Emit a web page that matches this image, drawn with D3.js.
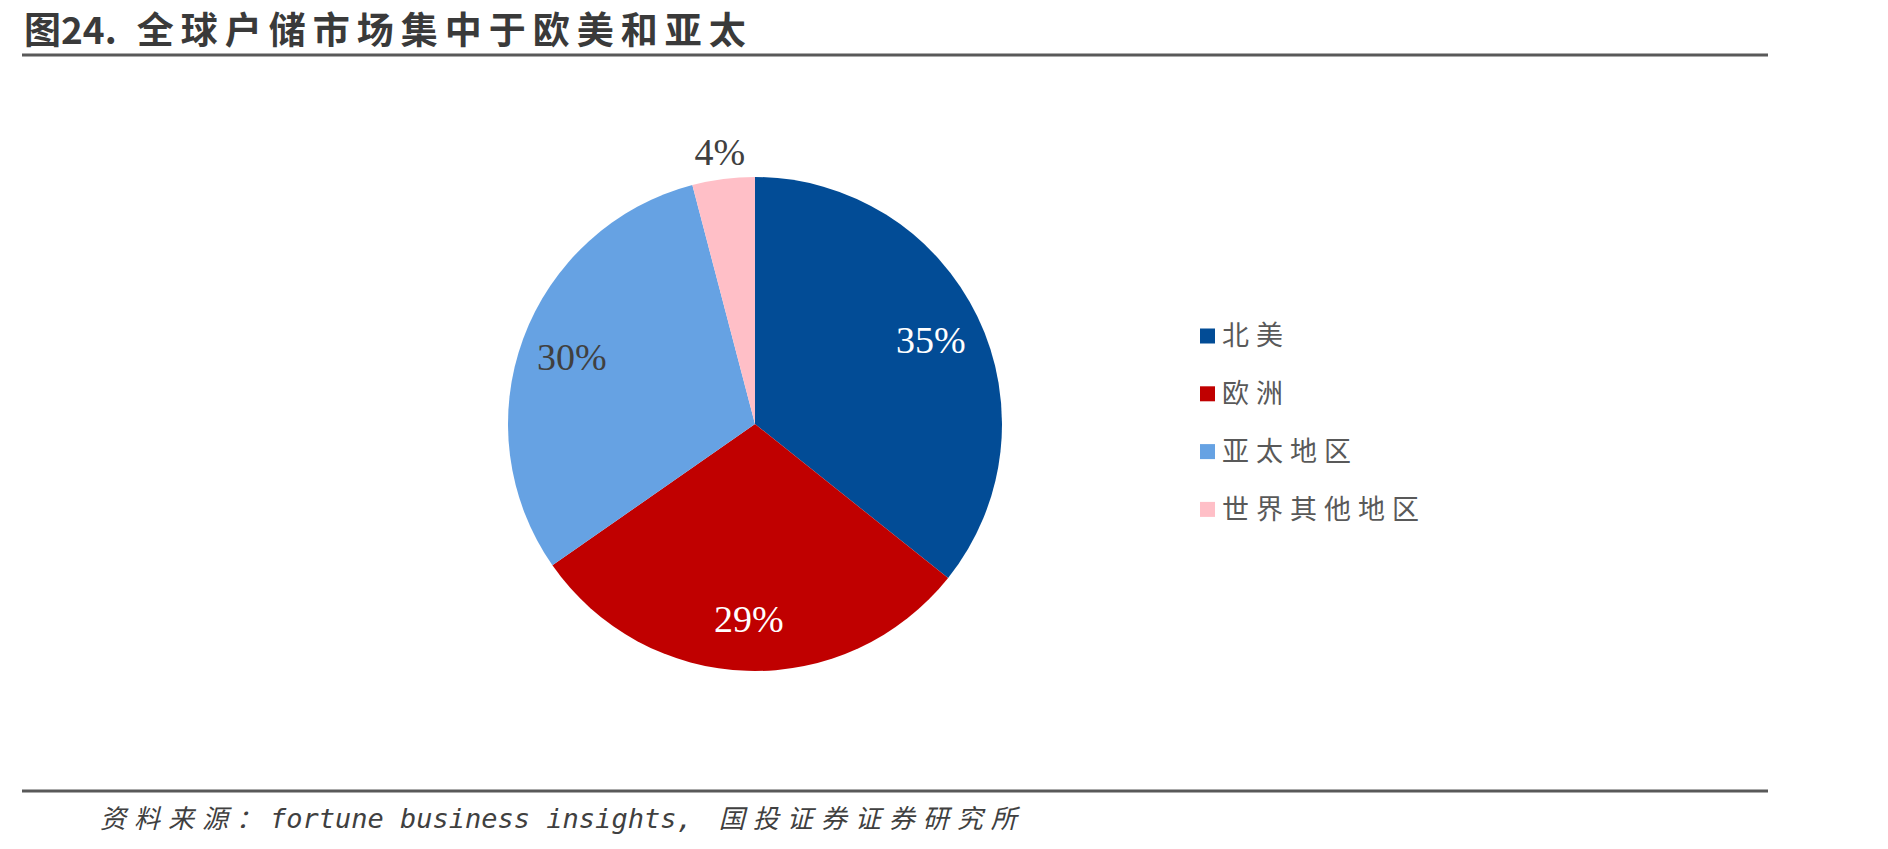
<!DOCTYPE html>
<html>
<head>
<meta charset="utf-8">
<script src="https://cdn.jsdelivr.net/npm/d3@7"></script>
<style>
  body { margin: 0; background: #fff; }
  svg { display: block; }
</style>
</head>
<body>
<div id="chart"></div>
<script>
const regions = ["北美", "欧洲", "亚太地区", "世界其他地区"];
const shares = [35, 29, 30, 4];
const labels = ["35%", "29%", "30%", "4%"];
const colors = ["#024C96", "#C00000", "#66A2E3", "#FFBFC7"];
const labelColors = ["#fff", "#fff", "#404040", "#404040"];

const width = 1888;
const height = 849;
const cx = 755, cy = 424, radius = 247;

const svg = d3.select("#chart")
    .append("svg")
    .attr("width", width)
    .attr("height", height);

// title + rules
const title = svg.append("text")
    .attr("x", 24)
    .attr("y", 44)
    .attr("font-family", "'Noto Sans CJK SC'")
    .attr("font-weight", 700)
    .attr("font-size", 37)
    .attr("fill", "#3a3a3a");
title.append("tspan").text("图24.");
title.append("tspan")
    .attr("dx", 20)
    .attr("letter-spacing", 7)
    .text("全球户储市场集中于欧美和亚太");

svg.append("line")
    .attr("x1", 22).attr("x2", 1768)
    .attr("y1", 55).attr("y2", 55)
    .attr("stroke", "#595959").attr("stroke-width", 3);

svg.append("line")
    .attr("x1", 22).attr("x2", 1768)
    .attr("y1", 791).attr("y2", 791)
    .attr("stroke", "#595959").attr("stroke-width", 3);

const source = svg.append("text")
    .attr("x", 100)
    .attr("y", 828)
    .attr("font-style", "italic")
    .attr("font-size", 26)
    .attr("fill", "#404040");
source.append("tspan")
    .attr("font-family", "'Noto Sans CJK SC'")
    .attr("letter-spacing", 8)
    .text("资料来源：");
source.append("tspan")
    .attr("font-family", "'DejaVu Sans Mono', monospace")
    .attr("font-size", 27)
    .text("fortune business insights,");
source.append("tspan")
    .attr("dx", 26)
    .attr("font-family", "'Noto Sans CJK SC'")
    .attr("letter-spacing", 8)
    .text("国投证券证券研究所");

// pie
const pie = d3.pie().sort(null).value(d => d);
const arcs = pie(shares);
const arc = d3.arc().innerRadius(0).outerRadius(radius);
const inLabel = d3.arc().innerRadius(radius * 0.79).outerRadius(radius * 0.79);
const outLabel = d3.arc().innerRadius(radius + 28).outerRadius(radius + 28);

const g = svg.append("g")
    .attr("transform", "translate(" + cx + "," + cy + ")");

g.selectAll("path")
    .data(arcs)
    .join("path")
    .attr("d", arc)
    .attr("fill", (d, i) => colors[i]);

g.selectAll("text")
    .data(arcs)
    .join("text")
    .attr("transform", (d, i) => "translate(" + (i === 3 ? outLabel : inLabel).centroid(d) + ")")
    .attr("text-anchor", "middle")
    .attr("dy", "0.35em")
    .attr("font-family", "'Liberation Serif', 'Times New Roman', serif")
    .attr("font-size", 38)
    .attr("fill", (d, i) => labelColors[i])
    .text((d, i) => labels[i]);

// legend
const legend = svg.append("g")
    .attr("transform", "translate(1200,336)");

const rows = legend.selectAll("g")
    .data(regions)
    .join("g")
    .attr("transform", (d, i) => "translate(0," + (i * 57.8) + ")");

rows.append("rect")
    .attr("x", 0).attr("y", -7.5)
    .attr("width", 15).attr("height", 15)
    .attr("fill", (d, i) => colors[i]);

rows.append("text")
    .attr("x", 22)
    .attr("dy", "0.35em")
    .attr("font-family", "'Noto Sans CJK SC'")
    .attr("font-size", 27)
    .attr("letter-spacing", 7)
    .attr("fill", "#595959")
    .text(d => d);
</script>
</body>
</html>
